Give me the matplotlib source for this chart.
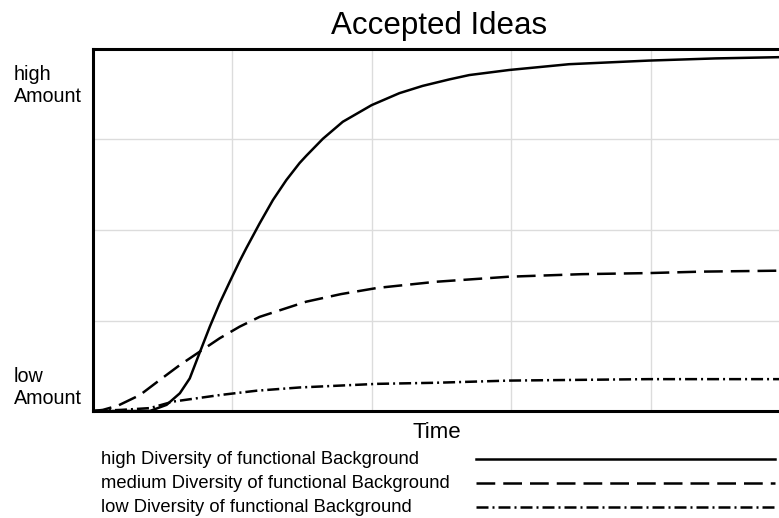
import matplotlib
matplotlib.use("Agg")
import matplotlib.pyplot as plt
from matplotlib.lines import Line2D

plt.rcParams['font.family'] = ['Liberation Sans', 'DejaVu Sans']

title = "Accepted Ideas"
x_label = "Time"
y_top_label = "high\nAmount"
y_bottom_label = "low\nAmount"
series_names = ["high Diversity of functional Background",
                "medium Diversity of functional Background",
                "low Diversity of functional Background"]

t_high = [0, 0.2, 0.408, 0.528, 0.623, 0.694, 0.754, 0.838, 0.909, 0.981, 1.052, 1.100,
          1.195, 1.291, 1.387, 1.482, 1.530, 1.649, 1.792, 1.999, 2.198, 2.364, 2.556,
          2.699, 2.985, 3.415, 3.987, 4.465, 5.0]
v_high = [0, 0, 0.0, 0.017, 0.049, 0.090, 0.150, 0.233, 0.298, 0.357, 0.414, 0.450,
          0.518, 0.583, 0.638, 0.685, 0.705, 0.752, 0.799, 0.845, 0.878, 0.898, 0.916,
          0.928, 0.942, 0.958, 0.968, 0.974, 0.978]

t_med = [0, 0.07, 0.18, 0.336, 0.48, 0.623, 0.766, 0.909, 1.052, 1.195, 1.458, 1.53,
         1.78, 2.04, 2.46, 2.985, 3.508, 3.987, 4.367, 5.0]
v_med = [0, 0.003, 0.015, 0.044, 0.086, 0.127, 0.164, 0.201, 0.233, 0.260, 0.293, 0.302,
         0.323, 0.340, 0.357, 0.371, 0.378, 0.381, 0.385, 0.388]

t_low = [0, 0.2, 0.408, 0.575, 0.909, 1.172, 1.482, 2.04, 2.46, 2.985, 3.987, 5.0]
v_low = [0, 0.003, 0.008, 0.026, 0.044, 0.056, 0.065, 0.075, 0.078, 0.084, 0.088, 0.088]

W, H = 779, 518
fig = plt.figure(figsize=(W / 100, H / 100), dpi=100)
ax = fig.add_axes([93 / W, 1 - 411 / H, (790 - 93) / W, (411 - 49) / H])

lw = 1.8
styles = ['-', (0, (7.5, 3.2)), (0, (4.8, 1.6, 0.8, 1.6))]
for t, v, ls in zip([t_high, t_med, t_low], [v_high, v_med, v_low], styles):
    ax.plot(t, v, color='black', lw=lw, linestyle=ls, solid_joinstyle='round')

ax.set_xlim(0, 5)
ax.set_ylim(0, 1)
ax.set_xticks([1, 2, 3, 4])
ax.set_yticks([0.25, 0.5, 0.75])
ax.grid(True, color='#dcdcdc', lw=1)
ax.tick_params(length=0, labelbottom=False, labelleft=False)
for s in ax.spines.values():
    s.set_linewidth(2.2)
    s.set_color('black')

fig.text(439 / W, 1 - 26 / H, title, ha='center', va='center', fontsize=22.5)
fig.text(437 / W, 1 - 432 / H, x_label, ha='center', va='center', fontsize=16)
fig.text(14 / W, 1 - 85 / H, y_top_label, ha='left', va='center', fontsize=14.2, linespacing=1.2)
fig.text(14 / W, 1 - 388 / H, y_bottom_label, ha='left', va='center', fontsize=14.2, linespacing=1.2)

rows_y = [459, 483, 507]
for name, ls, yy in zip(series_names, styles, rows_y):
    fig.text(101 / W, 1 - yy / H, name, ha='left', va='center', fontsize=13.2)
    fig.add_artist(Line2D([476 / W, 775 / W], [1 - yy / H, 1 - yy / H],
                          transform=fig.transFigure, color='black', lw=lw, linestyle=ls))

fig.savefig("out.png", dpi=100)
